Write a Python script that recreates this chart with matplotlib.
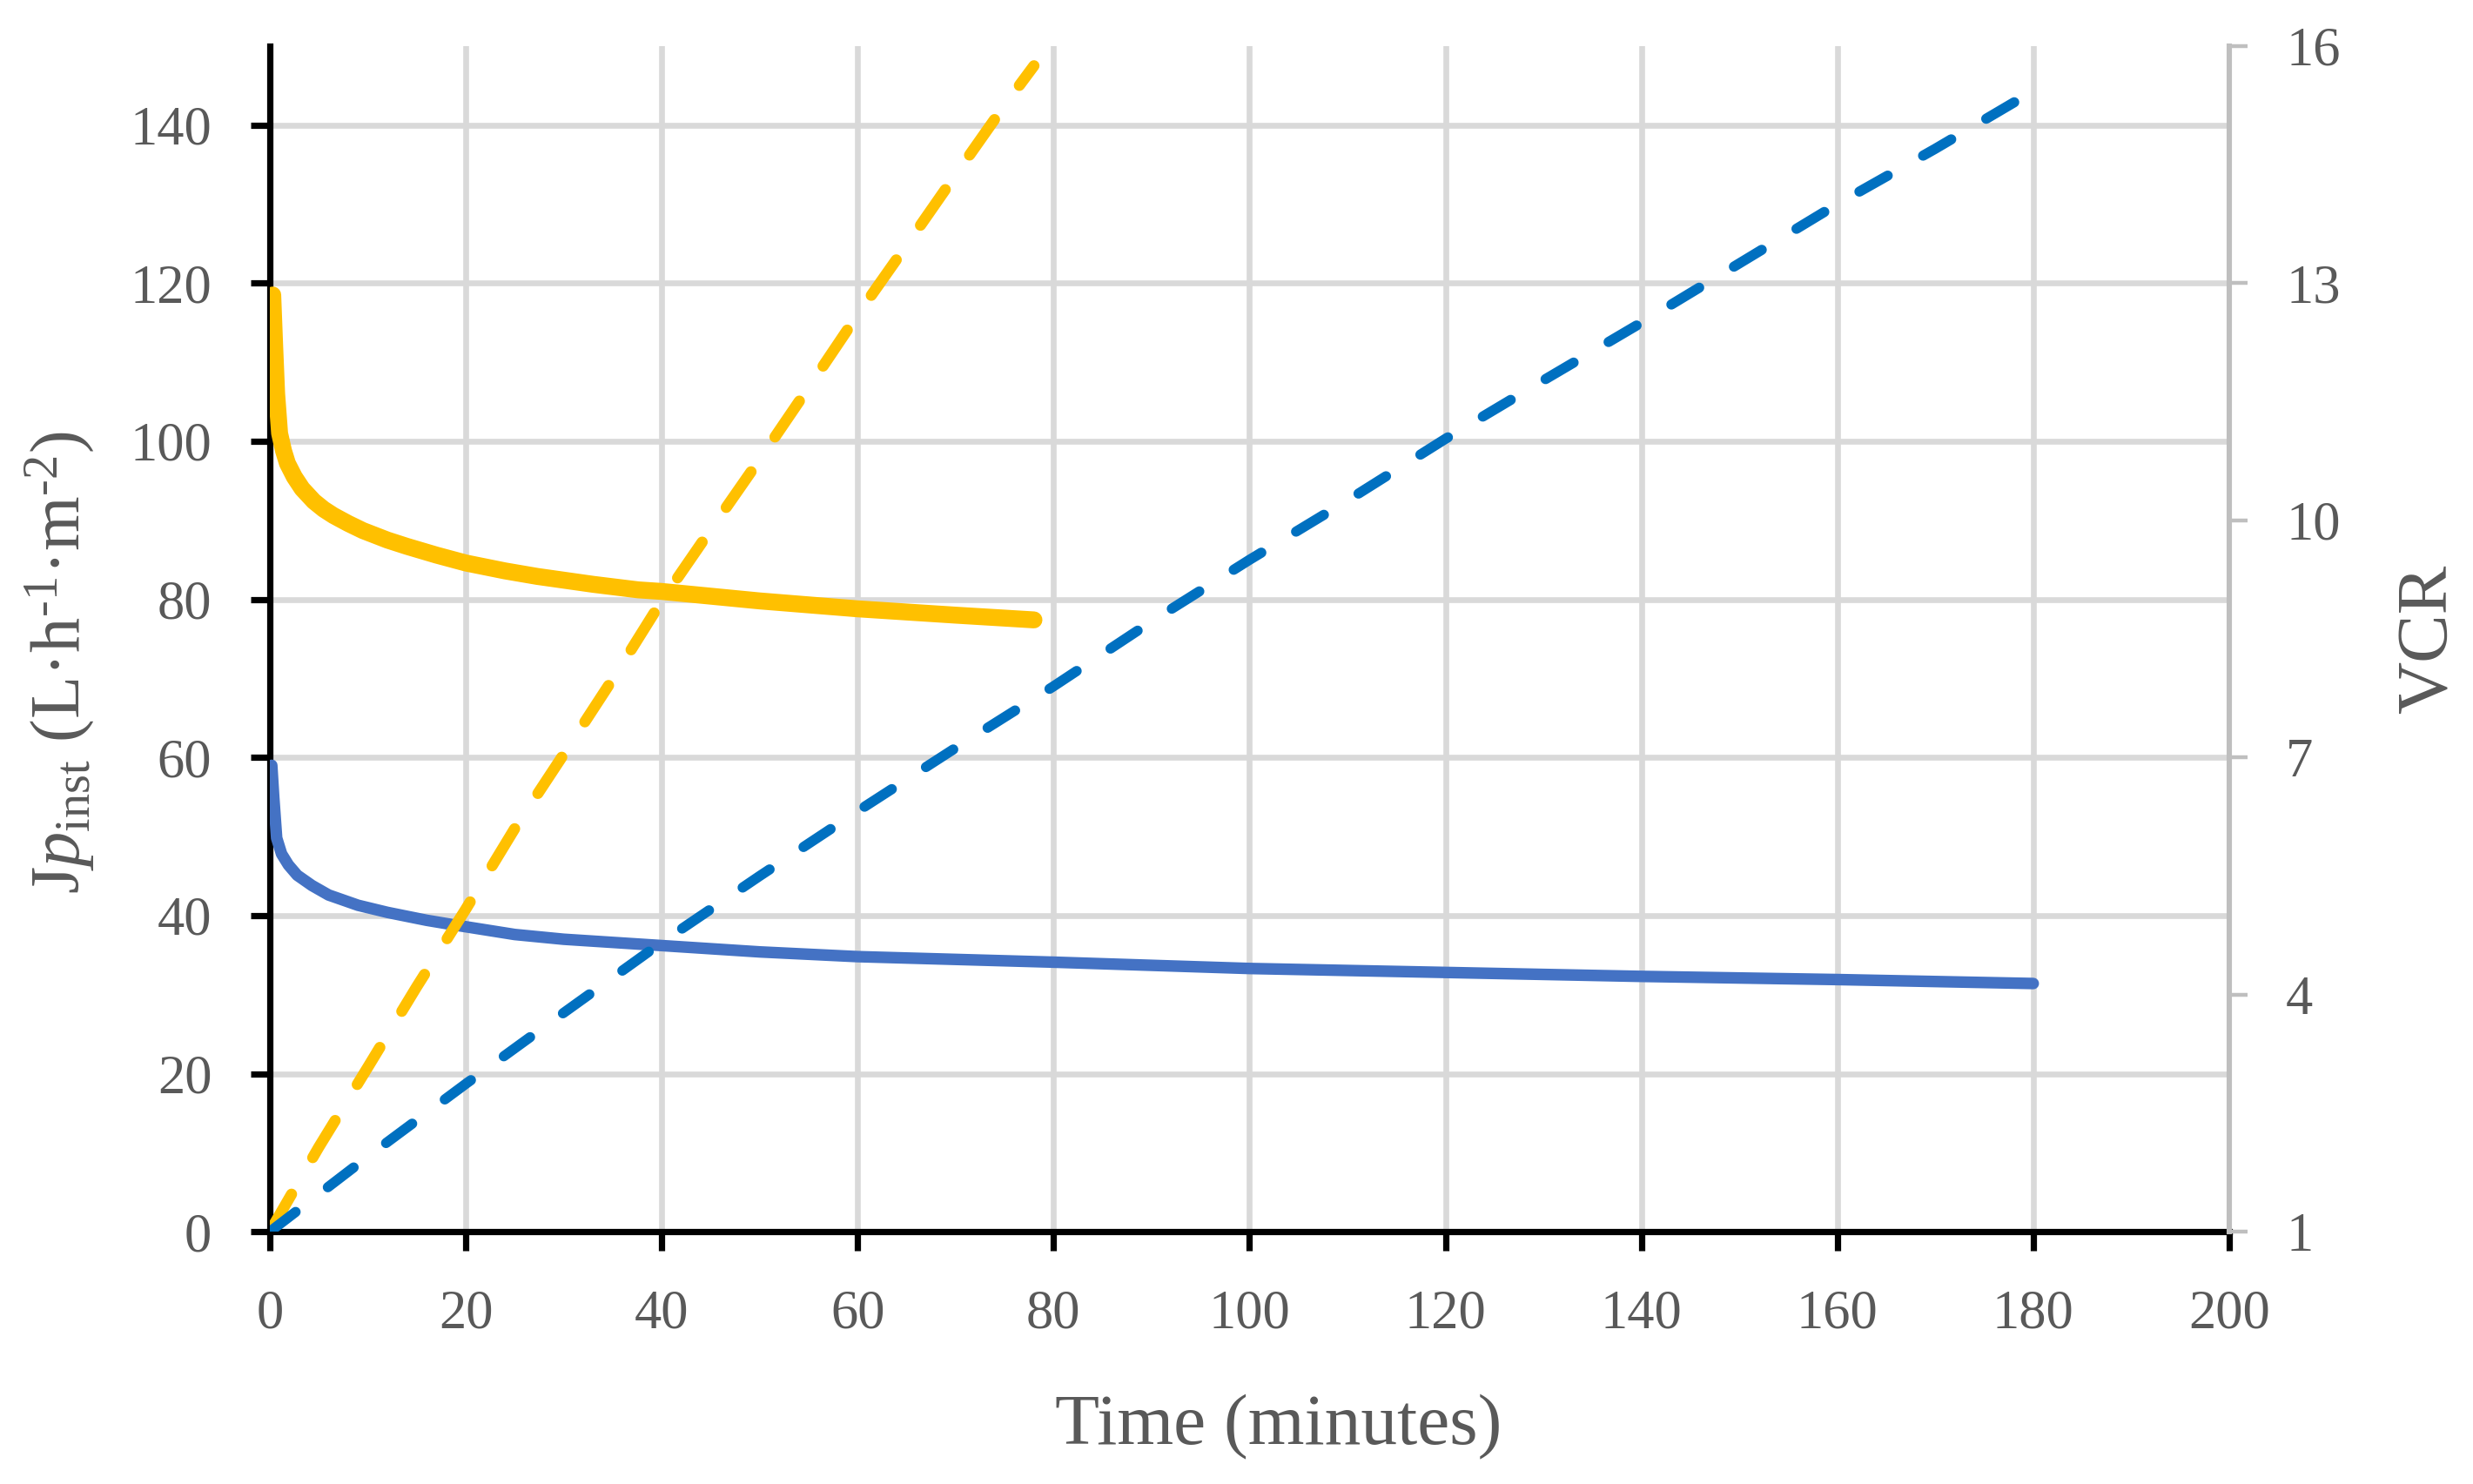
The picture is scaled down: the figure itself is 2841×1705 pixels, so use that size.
import numpy as np
import matplotlib
matplotlib.use("Agg")
from matplotlib import pyplot as plt

# valori letti dal grafico
# flusso istantaneo (asse sinistro)
t_flux_y = [0.3, 0.5, 0.7, 1.0, 1.4, 1.8, 2.5, 3.3, 4.5, 5.5, 6.5, 8, 9.5, 12, 14, 17, 20, 24, 27.3, 33, 37.6, 40, 45, 50, 55, 60, 65, 70, 78]
jp_y = [118.5, 112, 106, 101, 98.8, 97.2, 95.5, 94.0, 92.4, 91.4, 90.6, 89.6, 88.7, 87.5, 86.7, 85.6, 84.6, 83.6, 82.9, 81.9, 81.2, 81.0, 80.4, 79.8, 79.3, 78.8, 78.4, 78.0, 77.4]

t_flux_b = [0.2, 0.4, 0.7, 1.2, 1.9, 2.8, 4.3, 6, 9, 12, 14, 16, 18.9, 25, 30, 40, 50, 60, 80, 100, 120, 140, 160, 180]
jp_b = [59, 55, 49.8, 47.8, 46.4, 45.1, 43.8, 42.6, 41.3, 40.4, 39.9, 39.4, 38.8, 37.6, 37.0, 36.2, 35.4, 34.8, 34.1, 33.3, 32.8, 32.3, 31.9, 31.4]

# VCR (asse destro)
t_vcr_y = [0, 5, 10, 15, 20, 25, 30, 35, 40, 45, 50, 55, 60, 65, 70, 75, 78]
vcr_y = [1.0, 2.07, 3.08, 4.1, 5.08, 6.1, 7.04, 7.99, 8.98, 9.88, 10.77, 11.68, 12.6, 13.48, 14.37, 15.25, 15.75]

t_vcr_b = [0, 10, 20, 30, 40, 50, 60, 70, 80, 90, 100, 110, 120, 130, 140, 150, 160, 170, 180]
vcr_b = [1.0, 1.95, 2.87, 3.77, 4.66, 5.5, 6.32, 7.12, 7.9, 8.72, 9.5, 10.25, 11.03, 11.77, 12.5, 13.25, 14.0, 14.7, 15.43]

x_ticks = list(range(0, 201, 20))
left_ticks = list(range(0, 141, 20))
right_ticks = [1, 4, 7, 10, 13, 16]

GRIGIO_TXT = '#595959'
plt.rcParams['font.family'] = ['Liberation Serif', 'DejaVu Serif']
plt.rcParams['mathtext.fontset'] = 'custom'
plt.rcParams['mathtext.rm'] = 'Liberation Serif'
plt.rcParams['mathtext.it'] = 'Liberation Serif:italic'

fig = plt.figure(figsize=(14.205, 8.525), dpi=200)
ax = fig.add_axes([0.1091, 0.170, 0.7923, 0.799])
ax2 = ax.twinx()

# curve continue
ax.plot(t_flux_y, jp_y, color='#FFC000', lw=7.0, solid_capstyle='round', solid_joinstyle='round', zorder=3)
ax.plot(t_flux_b, jp_b, color='#4472C4', lw=4.8, solid_capstyle='round', solid_joinstyle='round', zorder=3)

# curve tratteggiate
ax2.plot(t_vcr_y, vcr_y, color='#FFC000', lw=4.6, dashes=(3.9, 3.8), dash_capstyle='round', zorder=3)
ax2.plot(t_vcr_b, vcr_b, color='#0070C0', lw=4.2, dashes=(3.2, 4.0), dash_capstyle='round', zorder=3)

ax.set_xlim(0, 200)
ax.set_ylim(0, 150)
ax2.set_ylim(1, 16)
ax.set_xticks(x_ticks)
ax.set_yticks(left_ticks)
ax2.set_yticks(right_ticks)

ax.set_axisbelow(True)
ax.grid(True, color='#D9D9D9', lw=2.4)

for s in ['top', 'right']:
    ax.spines[s].set_visible(False)
for s in ['top', 'left', 'bottom']:
    ax2.spines[s].set_visible(False)
ax.spines['left'].set_linewidth(2.6)
ax.spines['bottom'].set_linewidth(2.6)
ax.spines['left'].set_color('black')
ax.spines['bottom'].set_color('black')
ax2.spines['right'].set_color('#BFBFBF')
ax2.spines['right'].set_linewidth(2.2)

ax.tick_params(axis='both', direction='out', length=8, width=2.6, color='black',
               labelsize=22.5, labelcolor=GRIGIO_TXT, pad=16)
ax2.tick_params(axis='y', direction='out', length=7.5, width=1.6, color='#BFBFBF',
                labelsize=22.5, labelcolor=GRIGIO_TXT, pad=16)

ax.set_xlabel('Time (minutes)', fontsize=30, color=GRIGIO_TXT)
ax.xaxis.set_label_coords(0.515, -0.165)
ax.xaxis.label.set_va('center')

ax.set_ylabel(r'J$p_{\mathrm{inst}}$ (L·h$^{\text{-1}}$·m$^{\text{-2}}$)', fontsize=29, color=GRIGIO_TXT)
ax.yaxis.set_label_coords(-0.107, 0.48)
ax.yaxis.label.set_va('center')

ax2.set_ylabel('VCR', fontsize=30, color=GRIGIO_TXT)
ax2.yaxis.set_label_coords(1.102, 0.5)
ax2.yaxis.label.set_va('center')

fig.savefig('out.png', dpi=200, facecolor='white')
